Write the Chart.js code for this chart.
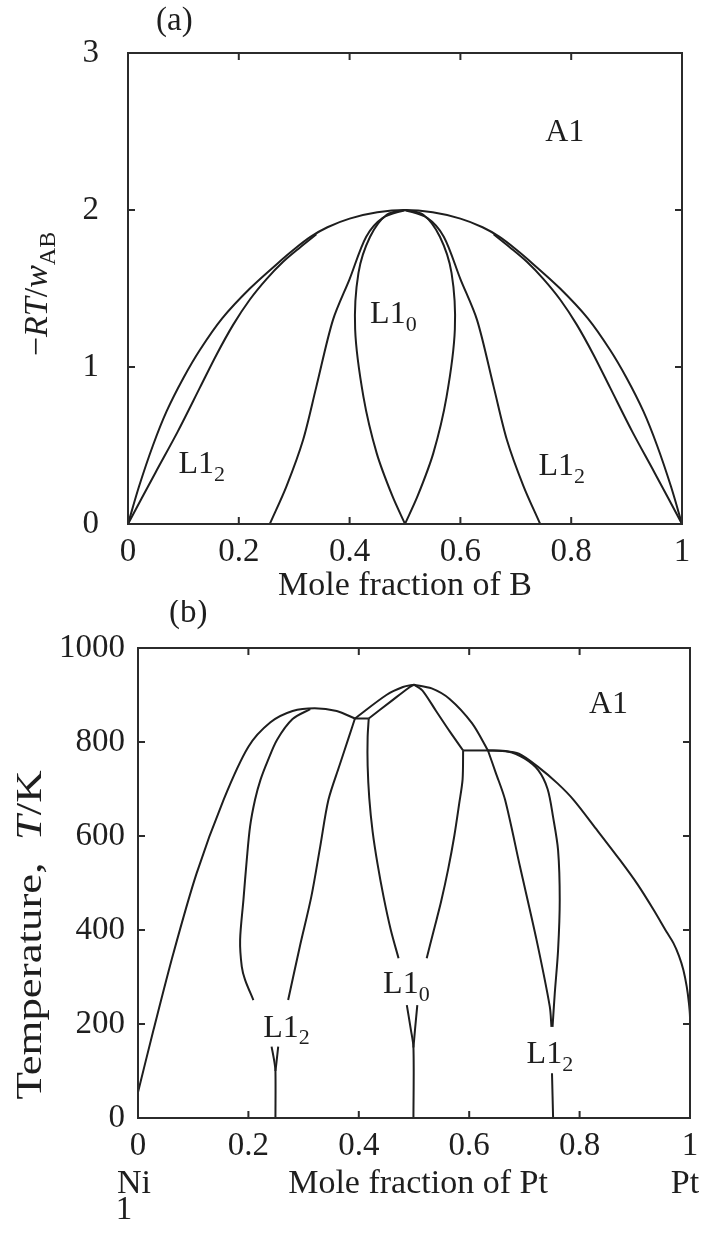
<!DOCTYPE html>
<html>
<head>
<meta charset="utf-8">
<script src="https://cdn.jsdelivr.net/npm/chart.js@4.4.0/dist/chart.umd.min.js"></script>
<style>
  body { margin: 0; background: #fff; width: 705px; height: 1239px; position: relative; overflow: hidden; }
  canvas { position: absolute; left: 0; }
  #chartA { top: 0; }
  #chartB { top: 600px; }
</style>
</head>
<body>
<canvas id="chartA" width="705" height="600"></canvas>
<canvas id="chartB" width="705" height="639"></canvas>
<script>
// ---- (a) model diagram: -RT/w_AB vs mole fraction of B ----
const xTicks = [0, 0.2, 0.4, 0.6, 0.8, 1];
const yTicksA = [0, 1, 2, 3];
const yTicksB = [0, 200, 400, 600, 800, 1000];

// disorder (A1) boundary
const a1X = [0, 0.02, 0.045, 0.07, 0.10, 0.13, 0.17, 0.22, 0.27, 0.30, 0.33, 0.36, 0.40, 0.45, 0.50,
             0.55, 0.60, 0.64, 0.67, 0.70, 0.73, 0.78, 0.83, 0.87, 0.90, 0.93, 0.955, 0.98, 1.0];
const a1Y = [0, 0.24, 0.50, 0.72, 0.93, 1.11, 1.31, 1.50, 1.66, 1.75, 1.83, 1.89, 1.945, 1.985, 2.0,
             1.985, 1.945, 1.89, 1.83, 1.75, 1.66, 1.50, 1.31, 1.11, 0.93, 0.72, 0.50, 0.24, 0];
// L1_2 single-phase limits
const l12LeftX = [0, 0.05, 0.09, 0.13, 0.16, 0.19, 0.22, 0.25, 0.28, 0.31, 0.34];
const l12LeftY = [0, 0.33, 0.59, 0.87, 1.08, 1.27, 1.43, 1.56, 1.67, 1.76, 1.845];
const l12RightX = [0.66, 0.69, 0.72, 0.75, 0.78, 0.81, 0.84, 0.87, 0.91, 0.95, 1.0];
const l12RightY = [1.845, 1.76, 1.67, 1.56, 1.43, 1.27, 1.08, 0.87, 0.59, 0.33, 0];
// L1_2 / L1_0 two-phase limits
const midLeftX = [0.256, 0.286, 0.316, 0.34, 0.37, 0.40, 0.43, 0.46, 0.50];
const midLeftY = [0, 0.24, 0.535, 0.875, 1.30, 1.56, 1.83, 1.95, 2.0];
const midRightX = [0.50, 0.54, 0.57, 0.60, 0.63, 0.66, 0.684, 0.714, 0.744];
const midRightY = [2.0, 1.95, 1.83, 1.56, 1.30, 0.875, 0.535, 0.24, 0];
// L1_0 lens
const lensY = [0, 0.18, 0.45, 0.81, 1.24, 1.60, 1.83, 1.97, 2.0];
const lensLeftX = [0.50, 0.477, 0.449, 0.425, 0.41, 0.416, 0.437, 0.467, 0.50];
const lensRightX = [0.50, 0.523, 0.551, 0.575, 0.59, 0.584, 0.563, 0.533, 0.50];

// ---- (b) Ni-Pt: temperature (K) vs mole fraction of Pt ----
const niA1X = [0, 0.028, 0.064, 0.106, 0.155, 0.20, 0.24, 0.28, 0.32, 0.36, 0.393];
const niA1T = [55, 187, 350, 520, 677, 790, 842, 866, 872, 866, 850];
const ni3PtLeftX = [0.209, 0.194, 0.188, 0.185, 0.191, 0.197, 0.203, 0.212, 0.222, 0.235, 0.252, 0.28, 0.312];
const ni3PtLeftT = [251, 294, 322, 379, 464, 549, 620, 677, 720, 760, 805, 849, 870];
const ni3PtRightX = [0.272, 0.293, 0.314, 0.330, 0.345, 0.365, 0.383, 0.393];
const ni3PtRightT = [251, 364, 471, 577, 677, 750, 814, 850];
const tieLeftX = [0.393, 0.418];
const tieLeftT = [850, 850];
const apexA1LeftX = [0.393, 0.45, 0.48, 0.50];
const apexA1LeftT = [850, 900, 917, 922];
const apexL10LeftX = [0.418, 0.46, 0.49, 0.50];
const apexL10LeftT = [850, 888, 915, 922];
const niPtLeftX = [0.472, 0.458, 0.445, 0.434, 0.425, 0.419, 0.416, 0.416, 0.418];
const niPtLeftT = [340, 400, 470, 540, 610, 680, 750, 810, 850];
const niPtRightX = [0.523, 0.536, 0.549, 0.562, 0.573, 0.582, 0.588, 0.589];
const niPtRightT = [340, 400, 460, 530, 600, 670, 720, 782];
const apexL10RightX = [0.50, 0.515, 0.54, 0.565, 0.589];
const apexL10RightT = [922, 910, 866, 822, 782];
const apexA1RightX = [0.50, 0.532, 0.564, 0.605, 0.634];
const apexA1RightT = [922, 914, 892, 840, 782];
const tieRightX = [0.589, 0.634];
const tieRightT = [782, 782];
const ptA1X = [0.634, 0.66, 0.69, 0.727, 0.76, 0.789, 0.83, 0.873, 0.905, 0.934, 0.958, 0.97, 0.98, 0.988, 0.994, 0.998, 1.0, 1.0];
const ptA1T = [782, 781, 775, 745, 712, 677, 615, 549, 497, 443, 395, 372, 345, 315, 280, 245, 215, 140];
const pt3NiLeftX = [0.634, 0.648, 0.665, 0.692, 0.722, 0.746, 0.749];
const pt3NiLeftT = [782, 735, 677, 535, 379, 237, 194];
const pt3NiRightX = [0.634, 0.67, 0.70, 0.725, 0.742, 0.752, 0.761, 0.764, 0.761, 0.755, 0.751];
const pt3NiRightT = [782, 780, 765, 740, 700, 640, 570, 464, 357, 265, 194];
// low-temperature stems under the phase labels
const stem25aX = [0.242, 0.247, 0.249, 0.249];
const stem25aT = [152, 120, 100, 0];
const stem25bX = [0.254, 0.251, 0.249];
const stem25bT = [152, 120, 100];
const stem50aX = [0.487, 0.494, 0.499, 0.499];
const stem50aT = [240, 190, 150, 0];
const stem50bX = [0.506, 0.502, 0.499];
const stem50bT = [240, 190, 150];
const stem75X = [0.750, 0.752];
const stem75T = [95, 0];

// phase labels (data coordinates of text start / baseline)
const labelsA = [
  { runs: [{ t: 'A1' }], x: 0.753, y: 2.44 },
  { runs: [{ t: 'L1' }, { t: '0', sub: true }], x: 0.437, y: 1.278 },
  { runs: [{ t: 'L1' }, { t: '2', sub: true }], x: 0.091, y: 0.323 },
  { runs: [{ t: 'L1' }, { t: '2', sub: true }], x: 0.741, y: 0.312 }
];
const labelsB = [
  { runs: [{ t: 'A1' }], x: 0.817, y: 862 },
  { runs: [{ t: 'L1' }, { t: '2', sub: true }], x: 0.227, y: 173 },
  { runs: [{ t: 'L1' }, { t: '0', sub: true }], x: 0.444, y: 265 },
  { runs: [{ t: 'L1' }, { t: '2', sub: true }], x: 0.704, y: 116 }
];

const SERIF = '"Liberation Serif", "Times New Roman", serif';
const INK = '#1e1e1e';

function pts(xs, ys) {
  return xs.map((x, i) => ({ x: x, y: ys[i] }));
}

function curve(xs, ys) {
  return {
    data: pts(xs, ys),
    showLine: true,
    borderColor: INK,
    borderWidth: 2,
    pointRadius: 0,
    tension: 0.3,
    fill: false,
    clip: 4
  };
}

// draw a sequence of text runs (italic / subscript) starting at x, baseline y
function drawRuns(ctx, runs, x, y, size, align) {
  const fontFor = (r) => {
    const s = r.sub ? Math.round(size * 0.7) : size;
    return (r.italic ? 'italic ' : '') + s + 'px ' + SERIF;
  };
  let total = 0;
  runs.forEach(r => { ctx.font = fontFor(r); total += ctx.measureText(r.t).width; });
  let cx = x;
  if (align === 'center') cx = x - total / 2;
  ctx.textAlign = 'left';
  ctx.textBaseline = 'alphabetic';
  runs.forEach(r => {
    ctx.font = fontFor(r);
    ctx.fillText(r.t, cx, y + (r.sub ? size * 0.24 : 0));
    cx += ctx.measureText(r.t).width;
  });
}

const framePlugin = {
  id: 'frame',
  afterDatasetsDraw(chart, args, opts) {
    const { ctx, chartArea: ca, scales } = chart;
    const x = scales.x, y = scales.y;
    ctx.save();
    ctx.strokeStyle = '#2b2b2b';
    ctx.lineWidth = 2;
    ctx.strokeRect(ca.left, ca.top, ca.right - ca.left, ca.bottom - ca.top);
    const len = opts.tickLen || 7;
    ctx.beginPath();
    x.ticks.forEach(t => {
      if (t.value <= x.min || t.value >= x.max) return;
      const px = x.getPixelForValue(t.value);
      ctx.moveTo(px, ca.bottom); ctx.lineTo(px, ca.bottom - len);
      ctx.moveTo(px, ca.top); ctx.lineTo(px, ca.top + len);
    });
    y.ticks.forEach(t => {
      if (t.value <= y.min || t.value >= y.max) return;
      const py = y.getPixelForValue(t.value);
      ctx.moveTo(ca.left, py); ctx.lineTo(ca.left + len, py);
      ctx.moveTo(ca.right, py); ctx.lineTo(ca.right - len, py);
    });
    ctx.stroke();

    // phase labels
    ctx.fillStyle = INK;
    (opts.labels || []).forEach(l => {
      drawRuns(ctx, l.runs, x.getPixelForValue(l.x), y.getPixelForValue(l.y), 32, 'left');
    });

    // captions and axis titles
    (opts.texts || []).forEach(t => {
      ctx.save();
      ctx.translate(t.x, t.y);
      if (t.rotate) ctx.rotate(t.rotate);
      if (t.stretch) ctx.scale(t.stretch, 1);
      drawRuns(ctx, t.runs, 0, 0, t.size || 34, t.align || 'center');
      ctx.restore();
    });
    ctx.restore();
  }
};

function tickText(v) {
  if (Math.abs(v) < 1e-9) return '0';
  if (Math.abs(v - 1) < 1e-9) return '1';
  return (Math.round(v * 10) / 10).toFixed(1);
}

function makeChart(canvasId, datasets, cfg) {
  return new Chart(document.getElementById(canvasId), {
    type: 'scatter',
    data: { datasets: datasets },
    options: {
      responsive: false,
      animation: false,
      devicePixelRatio: 1,
      layout: { padding: { top: cfg.padTop, right: cfg.padRight, left: 0, bottom: 0 } },
      plugins: {
        legend: { display: false },
        tooltip: { enabled: false },
        frame: { tickLen: 7, labels: cfg.labels, texts: cfg.texts }
      },
      scales: {
        x: {
          type: 'linear',
          min: 0, max: 1,
          afterBuildTicks: (s) => { s.ticks = xTicks.map(v => ({ value: v })); },
          afterFit: (s) => { s.height = cfg.xHeight; },
          ticks: {
            autoSkip: false,
            maxRotation: 0,
            padding: cfg.xPad,
            color: INK,
            font: { family: SERIF, size: 33 },
            callback: (v) => tickText(v)
          },
          grid: { display: false },
          border: { display: false }
        },
        y: {
          type: 'linear',
          min: cfg.yTicks[0], max: cfg.yTicks[cfg.yTicks.length - 1],
          afterBuildTicks: (s) => { s.ticks = cfg.yTicks.map(v => ({ value: v })); },
          afterFit: (s) => { s.width = cfg.yWidth; },
          ticks: {
            autoSkip: false,
            padding: cfg.yPad,
            color: INK,
            font: { family: SERIF, size: 33 },
            callback: (v) => String(v)
          },
          grid: { display: false },
          border: { display: false }
        }
      }
    },
    plugins: [framePlugin]
  });
}

makeChart('chartA', [
  curve(a1X, a1Y),
  curve(l12LeftX, l12LeftY),
  curve(l12RightX, l12RightY),
  curve(midLeftX, midLeftY),
  curve(midRightX, midRightY),
  curve(lensLeftX, lensY),
  curve(lensRightX, lensY)
], {
  padTop: 53, padRight: 23, xHeight: 76, yWidth: 128, xPad: 1, yPad: 21,
  yTicks: yTicksA,
  labels: labelsA,
  texts: [
    { runs: [{ t: '(a)' }], x: 156, y: 30, align: 'left', size: 33 },
    { runs: [{ t: 'Mole fraction of B' }], x: 405, y: 595 },
    { runs: [{ t: '\u2212' }, { t: 'RT', italic: true }, { t: '/' }, { t: 'w', italic: true }, { t: 'AB', sub: true }],
      x: 47, y: 294, rotate: -Math.PI / 2, size: 34 }
  ]
});

makeChart('chartB', [
  curve(niA1X, niA1T),
  curve(ni3PtLeftX, ni3PtLeftT),
  curve(ni3PtRightX, ni3PtRightT),
  curve(tieLeftX, tieLeftT),
  curve(apexA1LeftX, apexA1LeftT),
  curve(apexL10LeftX, apexL10LeftT),
  curve(niPtLeftX, niPtLeftT),
  curve(niPtRightX, niPtRightT),
  curve(apexL10RightX, apexL10RightT),
  curve(apexA1RightX, apexA1RightT),
  curve(tieRightX, tieRightT),
  curve(ptA1X, ptA1T),
  curve(pt3NiLeftX, pt3NiLeftT),
  curve(pt3NiRightX, pt3NiRightT),
  curve(stem25aX, stem25aT),
  curve(stem25bX, stem25bT),
  curve(stem50aX, stem50aT),
  curve(stem50bX, stem50bT),
  curve(stem75X, stem75T)
], {
  padTop: 48, padRight: 15, xHeight: 121, yWidth: 138, xPad: 1, yPad: 5,
  yTicks: yTicksB,
  labels: labelsB,
  texts: [
    { runs: [{ t: '(b)' }], x: 169, y: 22, align: 'left', size: 33 },
    { runs: [{ t: 'Ni' }], x: 134, y: 593 },
    { runs: [{ t: 'Mole fraction of Pt' }], x: 418, y: 593 },
    { runs: [{ t: 'Pt' }], x: 685, y: 593 },
    { runs: [{ t: '1' }], x: 124, y: 619, size: 33 },
    { runs: [{ t: 'Temperature,  ' }, { t: 'T', italic: true }, { t: '/K' }],
      x: 41, y: 335, rotate: -Math.PI / 2, stretch: 1.28, size: 35 }
  ]
});
</script>
</body>
</html>
